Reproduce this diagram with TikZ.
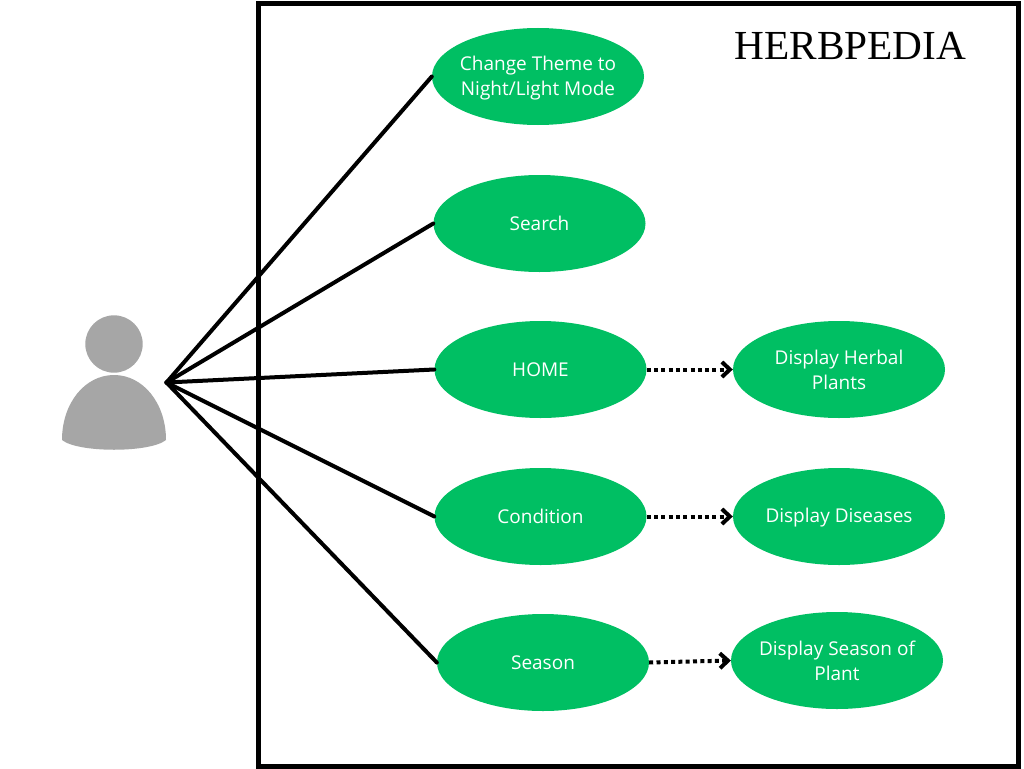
\documentclass[tikz,border=0pt]{standalone}
\usepackage{fontspec}
\setmainfont{Open Sans}
\newfontfamily\titlefont{Liberation Serif}
\usetikzlibrary{shapes.geometric,arrows.meta}
\definecolor{herbgreen}{HTML}{00BF63}
\definecolor{persongray}{HTML}{A6A6A6}
\newcommand\lstrut{\rule[-2.5pt]{0pt}{20pt}}
\newcommand\sstrut{\rule[-3.5pt]{0pt}{20pt}}
\tikzset{
  x=1pt,y=-1pt,
  usecase/.style={ellipse,fill=herbgreen,text=white,minimum width=212pt,minimum height=97pt,inner xsep=-20pt,inner ysep=-10pt,align=center,font=\fontsize{19}{25.5}\selectfont},
  assoc/.style={draw=black,line width=4pt,line cap=round},
  dep/.style={draw=black,line width=4pt,dash pattern=on 4pt off 3.3pt,-{Straight Barb[length=8pt,width=15pt,line width=4pt]}},
}
\begin{document}
\begin{tikzpicture}
\useasboundingbox (0,0) rectangle (1024,768);
\fill[white] (0,0) rectangle (1024,768);
\node[draw=black,line width=5pt,minimum width=760pt,minimum height=762pt,inner sep=0pt] (frame) at (638.5,385) {};
\node[font=\titlefont\fontsize{41.3}{44}\selectfont,inner sep=0pt] (title) at (850.5,46) {HERBPEDIA};
\node[usecase] (theme) at (538,76.5) {\lstrut Change Theme to\\\lstrut Night/Light Mode};
\node[usecase] (search) at (539.5,223.5) {\sstrut Search};
\node[usecase] (home) at (540.5,369.5) {\sstrut HOME};
\node[usecase] (cond) at (540.5,516.5) {\sstrut Condition};
\node[usecase] (season) at (543,662.5) {\sstrut Season};
\node[usecase] (plants) at (839,369.5) {\lstrut Display Herbal\\\lstrut Plants};
\node[usecase] (dis) at (839,516.5) {\sstrut Display Diseases};
\node[usecase] (splant) at (837,660.5) {\lstrut Display Season of\\\lstrut Plant};
\fill[persongray] (114,344) circle (28.7);
\fill[persongray] (62,440) .. controls (62,403) and (85,375) .. (114,375) .. controls (143,375) and (166,403) .. (166,440) .. controls (150,453) and (78,453) .. (62,440) -- cycle;
\coordinate (hub) at (166.5,382.5);
\draw[assoc] (hub) -- (theme.west);
\draw[assoc] (hub) -- (search.west);
\draw[assoc] (hub) -- (home.west);
\draw[assoc] (hub) -- (cond.west);
\draw[assoc] (hub) -- (season.west);
\draw[dep] (home.east) -- (plants.west);
\draw[dep] (cond.east) -- (dis.west);
\draw[dep] (season.east) -- (splant.west);
\end{tikzpicture}
\end{document}
